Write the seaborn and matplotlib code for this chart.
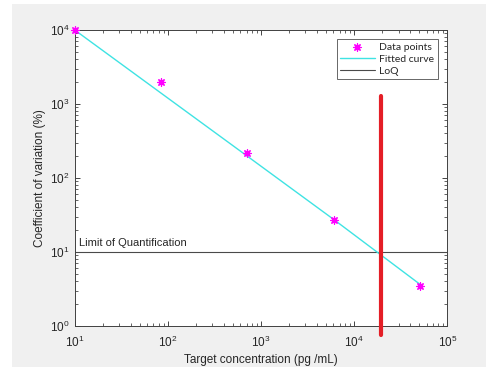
import numpy as np
import pandas as pd
import matplotlib
matplotlib.use("Agg")
import matplotlib.pyplot as plt
import seaborn as sns
from matplotlib.patches import Rectangle
from matplotlib.ticker import LogLocator, NullFormatter

# Data
conc = [10, 84.7, 706, 6040, 50300]          # pg/mL
cv = [10000, 2000, 216, 27, 3.5]             # %
fit_conc = [10, 84.7, 706, 6040, 50300]
fit_cv = [10000, 1400, 199, 27.5, 3.7]
loq_value = 10
loq_conc = 19200
loq_bar_cv = [0.76, 1280]

sns.set_theme(style="white")
plt.rcParams['font.family'] = ['Liberation Sans', 'DejaVu Sans']
plt.rcParams['mathtext.fontset'] = 'custom'
plt.rcParams['mathtext.rm'] = 'Liberation Sans'

fig = plt.figure(figsize=(4.86, 3.69), dpi=100)
fig.patch.set_facecolor('white')
fig.patches.append(Rectangle((12/486, 2/369), 1 - 12/486, 363/369,
                             transform=fig.transFigure, facecolor='#f0f0f0',
                             edgecolor='none', zorder=-10))
ax = fig.add_axes([74.7/486, 1 - 326/369, (447.3 - 74.7)/486, (326 - 30)/369])
ax.set_facecolor('white')

df_pts = pd.DataFrame({'x': conc, 'y': cv})
df_fit = pd.DataFrame({'x': fit_conc, 'y': fit_cv})
df_bar = pd.DataFrame({'x': [loq_conc, loq_conc], 'y': loq_bar_cv})

ax.axhline(loq_value, color='#4a4a4a', lw=0.8, label='LoQ', zorder=2)
sns.lineplot(data=df_fit, x='x', y='y', ax=ax, color='#3fe3e3', linewidth=1.0,
             label='Fitted curve', zorder=3, sort=False, estimator=None)
sns.lineplot(data=df_bar, x='x', y='y', ax=ax, color='#e41e26', estimator=None,
             sort=False, linewidth=3.0, clip_on=False, zorder=4, label='_nolegend_')
sns.scatterplot(data=df_pts, x='x', y='y', ax=ax, marker=(8, 2, 0), s=28,
                color='#ff00ff', edgecolor='#ff00ff', linewidth=0.9,
                label='Data points', zorder=5, clip_on=False)

ax.set_xscale('log')
ax.set_yscale('log')
ax.set_xlim(10, 1e5)
ax.set_ylim(1, 1e4)

ax.xaxis.set_major_locator(LogLocator(base=10, numticks=10))
ax.yaxis.set_major_locator(LogLocator(base=10, numticks=10))
ax.xaxis.set_minor_locator(LogLocator(base=10, subs=np.arange(2, 10), numticks=20))
ax.yaxis.set_minor_locator(LogLocator(base=10, subs=np.arange(2, 10), numticks=20))
ax.xaxis.set_minor_formatter(NullFormatter())
ax.yaxis.set_minor_formatter(NullFormatter())

ax.tick_params(which='both', direction='in', top=True, right=True,
               bottom=True, left=True, colors='#262626', labelsize=8.5)
ax.tick_params(which='major', length=3.5, width=0.6)
ax.tick_params(which='minor', length=2, width=0.5)
ax.tick_params(axis='x', pad=6)
for s in ax.spines.values():
    s.set_color('#404040')
    s.set_linewidth(0.7)

ax.set_xlabel('Target concentration (pg /mL)', fontsize=8.5, color='#262626', labelpad=3)
ax.set_ylabel('Coefficient of variation (%)', fontsize=8.5, color='#262626', labelpad=3)

ax.text(11.0, 11.3, 'Limit of Quantification', fontsize=8, color='#262626',
        ha='left', va='bottom')

h, l = ax.get_legend_handles_labels()
order = [l.index('Data points'), l.index('Fitted curve'), l.index('LoQ')]
leg = ax.legend([h[i] for i in order], [l[i] for i in order],
                loc='upper right', bbox_to_anchor=(0.975, 0.97),
                prop={'family': 'Lato', 'size': 7.5}, frameon=True, fancybox=False,
                handlelength=3.3, handletextpad=0.45, borderpad=0.35,
                labelspacing=0.25, borderaxespad=0)
leg.get_frame().set_edgecolor('#404040')
leg.get_frame().set_linewidth(0.7)

fig.savefig('out.png', dpi=100)
